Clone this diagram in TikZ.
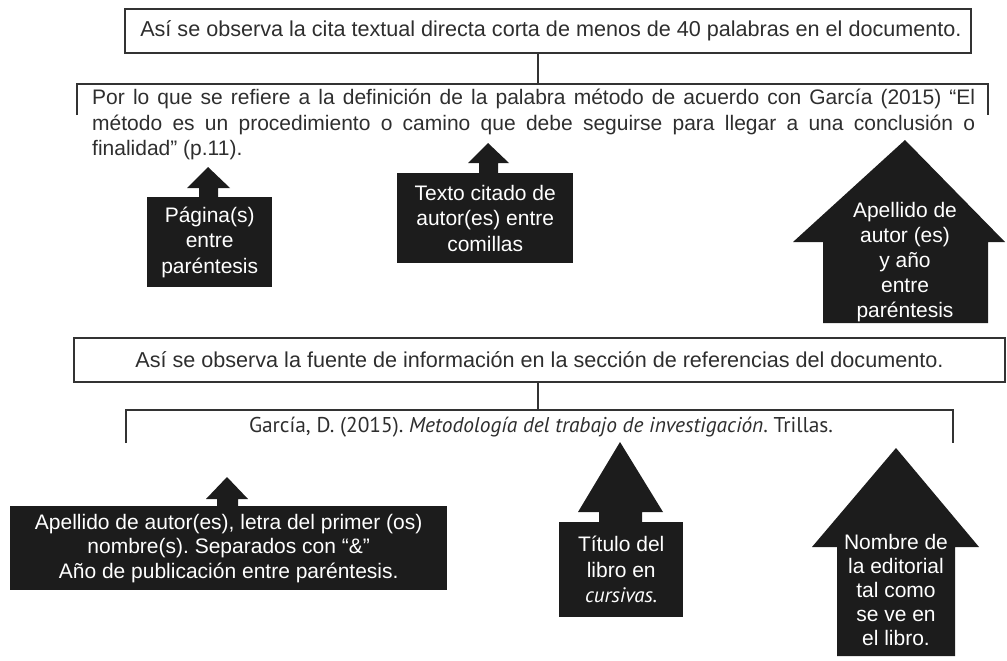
\documentclass[tikz,border=0pt]{standalone}
\usepackage{fontspec}
\setmainfont{Liberation Sans}
\newfontfamily\myriad{PT Sans}
\definecolor{txt}{HTML}{2E2E2E}
\definecolor{ink}{HTML}{1C1C1C}
\definecolor{edge}{HTML}{333333}
\frenchspacing
\begin{document}
\begin{tikzpicture}[x=1pt,y=-1pt,
  frame/.style={draw=edge, line width=1.8pt, inner sep=0pt, anchor=north west, text=txt, font=\fontsize{21.6}{25}\selectfont},
  link/.style={draw=edge, line width=1.6pt},
  lbl/.style={fill=ink, text=white, align=center, inner sep=0pt, anchor=north west, font=\fontsize{21}{25.5}\selectfont},
  wlbl/.style={text=white, align=center, inner sep=0pt, font=\fontsize{21}{25}\selectfont},
  head/.style={fill=ink}]
\useasboundingbox (0,0) rectangle (1007,661);
% ---- first section
\node[frame, minimum width=846pt, minimum height=44pt] (t1) at (124,8)
  {\hspace{6pt}Así se observa la cita textual directa corta de menos de 40 palabras en el documento.};
\coordinate (b1) at (538,84);
\coordinate (b1l) at (77,115);
\coordinate (b1r) at (988,115);
\draw[link] (t1.south -| b1) -- (b1);
\draw[link] (b1l) |- (b1) -| (b1r);
\node[text=txt, inner sep=0pt, anchor=north west, text width=883pt, align=justify,
      font=\fontsize{21}{25.5}\selectfont] (p1) at (92,89)
  {Por lo que se refiere a la definición de la palabra método de acuerdo con García (2015) “El\linebreak
   método es un procedimiento o camino que debe seguirse para llegar a una conclusión o\linebreak
   finalidad” (p.11).};
% Página(s)
\fill[head] (208,167) -- (230,188) -- (218,188) -- (218,198) -- (199,198) -- (199,188) -- (187,188) -- cycle;
\node[lbl, minimum width=125pt, minimum height=90pt] (a1) at (147,197) {Página(s)\\entre\\paréntesis};
% Texto citado
\fill[head] (488,143) -- (509,163) -- (498,163) -- (498,174) -- (479,174) -- (479,163) -- (468,163) -- cycle;
\node[lbl, minimum width=176pt, minimum height=90pt] (a2) at (397,173) {Texto citado de\\autor(es) entre\\comillas};
% Apellido big arrow
\fill[head] (905,140) -- (1005,242) -- (988,242) -- (988,323) -- (823,323) -- (823,242) -- (793,242) -- cycle;
\node[wlbl] (a3) at (905,262) {Apellido de\\autor (es)\\y año\\entre\\paréntesis};
% ---- second section
\node[frame, minimum width=931pt, minimum height=44pt] (t2) at (73,337)
  {Así se observa la fuente de información en la sección de referencias del documento.\hspace{8pt}};
\coordinate (b2) at (538,410);
\coordinate (b2l) at (126,443);
\coordinate (b2r) at (953,443);
\draw[link] (t2.south -| b2) -- (b2);
\draw[link] (b2l) |- (b2) -| (b2r);
\node[text=txt, inner sep=0pt, font=\myriad\fontsize{21.4}{24}\selectfont] (g) at (541,427)
  {García, D. (2015). \textit{Metodología del trabajo de investigación}. Trillas.};
% Apellido bottom
\fill[head] (227,477) -- (248,499) -- (238,499) -- (238,507) -- (217,507) -- (217,499) -- (206,499) -- cycle;
\node[lbl, minimum width=437pt, minimum height=84pt, font=\fontsize{21}{24.5}\selectfont] (a4) at (10,506)
  {Apellido de autor(es), letra del primer (os)\\nombre(s). Separados con “\&”\\Año de publicación entre paréntesis.};
% Título
\fill[head] (620,442) -- (663,512) -- (642,512) -- (642,523) -- (599,523) -- (599,512) -- (578,512) -- cycle;
\node[lbl, minimum width=124pt, minimum height=95pt] (a5) at (559,522)
  {Título del\\libro en\\{\myriad\itshape cursivas.}};
% Nombre editorial
\fill[head] (896,448) -- (979,547) -- (955,547) -- (955,656) -- (837,656) -- (837,547) -- (812,547) -- cycle;
\node[wlbl, font=\fontsize{21}{24}\selectfont] (a6) at (896,590) {Nombre de\\la editorial\\tal como\\se ve en\\el libro.};
\end{tikzpicture}
\end{document}
